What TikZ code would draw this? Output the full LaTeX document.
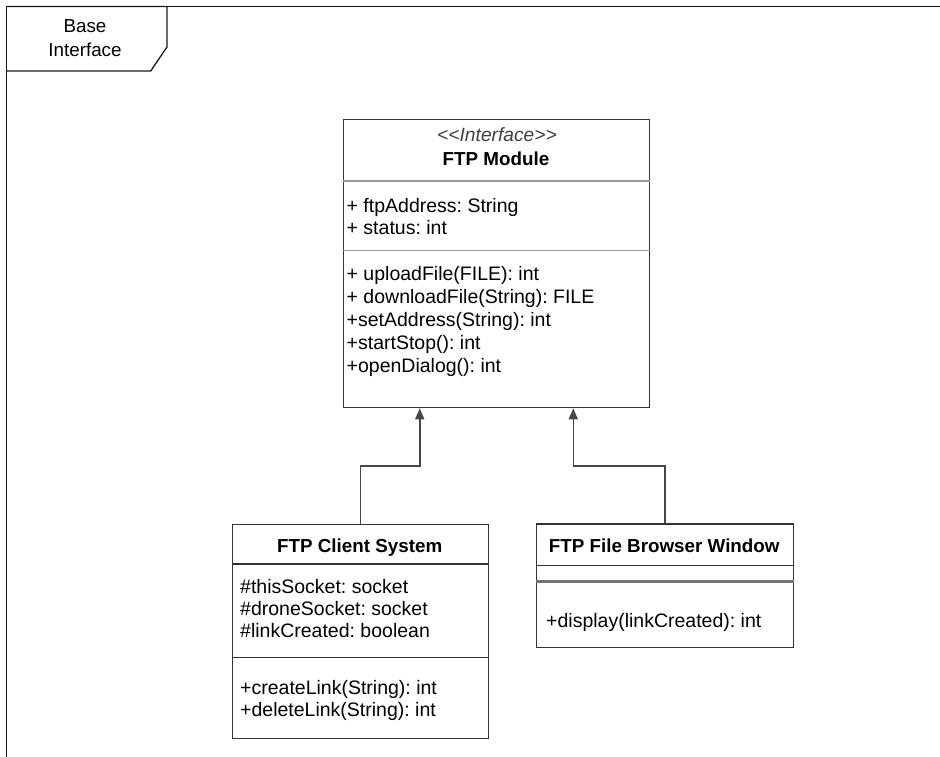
\documentclass[tikz,border=0pt]{standalone}
\usepackage{fontspec}
\setmainfont{Liberation Sans}
\frenchspacing
\usetikzlibrary{arrows.meta,calc}
\tikzset{
  box/.style={draw=black!80, line width=1.3pt, fill=white, inner sep=0pt, anchor=north west},
  sep/.style={draw=black!80, line width=1.3pt},
  lsep/.style={draw=black!40, line width=1.5pt},
  txt/.style={inner sep=0pt, anchor=base west, font=\fontsize{19.5}{23}\selectfont},
  ttl/.style={inner sep=0pt, anchor=base, font=\fontsize{18.8}{23}\selectfont\bfseries},
  ster/.style={inner sep=0pt, anchor=base, font=\fontsize{19.2}{23}\selectfont\itshape, text=black!75},
  conn/.style={draw=black!72, line width=1.5pt, -{Triangle[width=9pt,length=11pt]}},
  frame/.style={draw=black!90, line width=1.6pt}
}
\begin{document}
\begin{tikzpicture}[x=1pt,y=-1pt]
\useasboundingbox (0,0) rectangle (940,757);
\fill[white] (0,0) rectangle (940,757);
% outer frame (top and left visible)
\draw[frame] (940,6.5) -- (6.5,6.5) -- (6.5,757);
% tab
\draw[frame, line width=1.3pt] (6.5,6.5) -- (167,6.5) -- (167,47) -- (150.7,71) -- (6.5,71);
\node[inner sep=0pt, anchor=base, font=\fontsize{18.8}{23}\selectfont] (tab1) at (85,33) {Base};
\node[inner sep=0pt, anchor=base, font=\fontsize{18.8}{23}\selectfont] (tab2) at (85,57) {Interface};

% FTP Module
\node[box, minimum width=305.7pt, minimum height=288pt] (mod) at (343,119) {};
\draw[lsep] (mod.west |- 0,181) -- (mod.east |- 0,181);
\draw[lsep] (mod.west |- 0,250.7) -- (mod.east |- 0,250.7);
\node[ster] (modst) at (497,141.5) {{<}{<}Interface{>}{>}};
\node[ttl] (modt) at (496,166) {FTP Module};
\node[txt] (ma1) at (346.5,212) {+ ftpAddress: String};
\node[txt] (ma2) at (346.5,234.5) {+ status: int};
\node[txt] (mm1) at (346.5,280) {+ uploadFile(FILE): int};
\node[txt] (mm2) at (346.5,303) {+ downloadFile(String): FILE};
\node[txt] (mm3) at (346.5,326) {+setAddress(String): int};
\node[txt] (mm4) at (346.5,349) {+startStop(): int};
\node[txt] (mm5) at (346.5,372) {+openDialog(): int};

% FTP Client System
\node[box, minimum width=256pt, minimum height=214pt] (cli) at (231.7,524) {};
\draw[sep] (cli.west |- 0,564) -- (cli.east |- 0,564);
\draw[sep] (cli.west |- 0,657.7) -- (cli.east |- 0,657.7);
\node[ttl] (clit) at (359.7,552) {FTP Client System};
\node[txt] (ca1) at (240,593.5) {\#thisSocket: socket};
\node[txt] (ca2) at (240,615.5) {\#droneSocket: socket};
\node[txt] (ca3) at (240,637.5) {\#linkCreated: boolean};
\node[txt] (cm1) at (240,694.5) {+createLink(String): int};
\node[txt] (cm2) at (240,716.5) {+deleteLink(String): int};

% FTP File Browser Window
\node[box, minimum width=257pt, minimum height=123.4pt] (brw) at (535.7,523.3) {};
\draw[sep] (brw.west |- 0,565.3) -- (brw.east |- 0,565.3);
\draw[draw=black!55, line width=2.6pt] (brw.west |- 0,581.7) -- (brw.east |- 0,581.7);
\node[ttl] (brwt) at (664.2,552) {FTP File Browser Window};
\node[txt] (bm1) at (546,627) {+display(linkCreated): int};

% connectors
\coordinate (bend) at (0,466);
\coordinate (m1) at ($(mod.south west)!0.25!(mod.south east)$);
\coordinate (m2) at ($(mod.south west)!0.75!(mod.south east)$);
\draw[conn] (cli.north) -- (cli.north |- bend) -| (m1);
\draw[conn] (brw.north) -- (brw.north |- bend) -| (m2);
\end{tikzpicture}
\end{document}
